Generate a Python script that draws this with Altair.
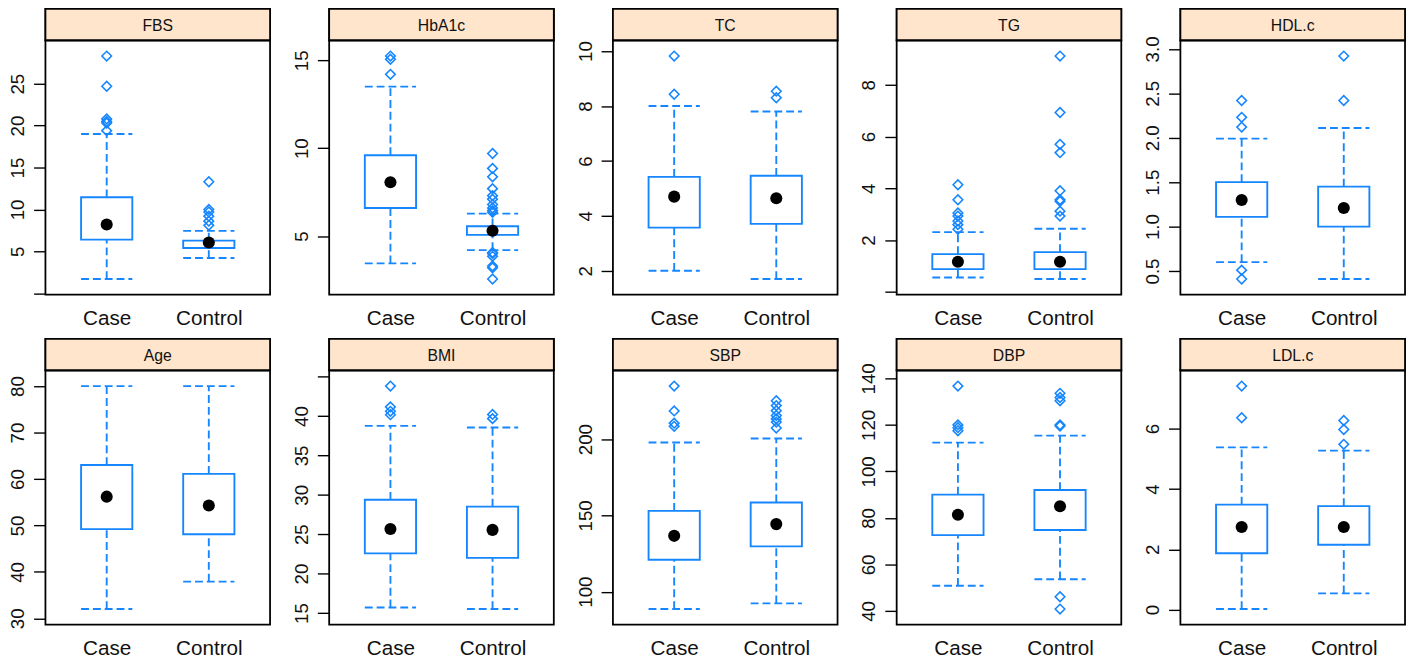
import altair as alt
import pandas as pd

variables = ["FBS", "HbA1c", "TC", "TG", "HDL.c", "Age", "BMI", "SBP", "DBP", "LDL.c"]
groups = ["Case", "Control"]

# whisker ends, quartiles and medians (order follows `variables`)
case_lower = [1.7, 3.45, 2.0, 0.56, 0.60, 32.0, 15.7, 88.6, 50.8, 0.02]
case_q1 = [6.4, 6.6, 3.57, 0.88, 1.11, 49.2, 22.56, 120.9, 72.6, 1.87]
case_median = [8.2, 8.06, 4.70, 1.17, 1.30, 56.2, 25.67, 136.6, 81.4, 2.74]
case_q3 = [11.45, 9.6, 5.42, 1.46, 1.50, 63.0, 29.37, 153.0, 90.0, 3.48]
case_upper = [19.0, 13.5, 8.0, 2.31, 1.99, 80.0, 38.75, 197.8, 112.4, 5.38]

control_lower = [4.2, 4.2, 1.7, 0.50, 0.41, 37.9, 15.5, 92.3, 53.6, 0.54]
control_q1 = [5.4, 5.07, 3.71, 0.88, 1.00, 48.1, 22.0, 129.7, 74.8, 2.15]
control_median = [6.05, 5.3, 4.64, 1.17, 1.21, 54.3, 25.55, 144.3, 85.0, 2.74]
control_q3 = [6.28, 5.56, 5.46, 1.54, 1.45, 61.1, 28.5, 158.5, 92.0, 3.43]
control_upper = [7.45, 6.28, 7.8, 2.44, 2.11, 80.0, 38.55, 200.4, 115.4, 5.27]

# outliers
case_out_FBS = [28.3, 24.7, 20.8, 20.5, 20.3, 19.4]
control_out_FBS = [13.3, 10.0, 9.7, 9.2, 8.6, 8.1]
case_out_HbA1c = [15.24, 15.06, 14.2]
control_out_HbA1c = [9.7, 8.85, 8.37, 7.7, 7.3, 7.1, 6.8, 6.6, 6.45, 6.35,
                     4.07, 4.0, 3.85, 3.3, 3.2, 2.56]
case_out_TC = [9.82, 8.43]
control_out_TC = [8.54, 8.3]
case_out_TG = [4.14, 3.56, 3.05, 2.93, 2.74, 2.6, 2.42]
control_out_TG = [9.11, 6.93, 5.7, 5.38, 3.91, 3.56, 3.5, 3.12, 2.93]
case_out_HDL = [2.42, 2.23, 2.12, 0.51, 0.41]
control_out_HDL = [2.92, 2.42]
case_out_Age = []
control_out_Age = []
case_out_BMI = [43.8, 41.16, 40.6, 40.17]
control_out_BMI = [40.2, 39.67]
case_out_SBP = [234.8, 218.5, 210.5, 208.4]
control_out_SBP = [225.2, 222.0, 218.7, 215.5, 213.3, 211.2, 207.3]
case_out_DBP = [136.7, 120.0, 118.8, 117.5]
control_out_DBP = [133.6, 131.8, 130.4, 120.0, 119.5, 46.1, 40.8]
case_out_LDL = [7.41, 6.36]
control_out_LDL = [6.27, 5.97, 5.48]

# y-axis tick values per panel, and ticks drawn without a label
ticks_FBS = [0, 5, 10, 15, 20, 25]
ticks_HbA1c = [5, 10, 15]
ticks_TC = [2, 4, 6, 8, 10]
ticks_TG = [0, 2, 4, 6, 8]
ticks_HDL = [0.5, 1.0, 1.5, 2.0, 2.5, 3.0]
ticks_Age = [30, 40, 50, 60, 70, 80]
ticks_BMI = [15, 20, 25, 30, 35, 40, 45]
ticks_SBP = [100, 150, 200]
ticks_DBP = [40, 60, 80, 100, 120, 140]
ticks_LDL = [0, 2, 4, 6]
unlabeled_FBS = [0]
unlabeled_TG = [0]
unlabeled_BMI = [45]

case_outliers = [case_out_FBS, case_out_HbA1c, case_out_TC, case_out_TG, case_out_HDL,
                 case_out_Age, case_out_BMI, case_out_SBP, case_out_DBP, case_out_LDL]
control_outliers = [control_out_FBS, control_out_HbA1c, control_out_TC, control_out_TG,
                    control_out_HDL, control_out_Age, control_out_BMI, control_out_SBP,
                    control_out_DBP, control_out_LDL]
tick_lists = [ticks_FBS, ticks_HbA1c, ticks_TC, ticks_TG, ticks_HDL,
              ticks_Age, ticks_BMI, ticks_SBP, ticks_DBP, ticks_LDL]
unlabeled_lists = [unlabeled_FBS, [], [], unlabeled_TG, [], [], unlabeled_BMI, [], [], []]
formats = ["d", "d", "d", "d", ".1f", "d", "d", "d", "d", "d"]

BLUE = "#1586ff"
STRIP = "#ffe5cc"
FONT = "Liberation Sans"
W, H, SH = 228, 258, 32
BW = 52
LW = 1.9


def panel(i):
    name = variables[i]
    box = pd.DataFrame({
        "group": groups,
        "lower": [case_lower[i], control_lower[i]],
        "q1": [case_q1[i], control_q1[i]],
        "median": [case_median[i], control_median[i]],
        "q3": [case_q3[i], control_q3[i]],
        "upper": [case_upper[i], control_upper[i]],
    })
    co, ko = case_outliers[i], control_outliers[i]
    outl = pd.DataFrame({"group": ["Case"] * len(co) + ["Control"] * len(ko),
                         "value": co + ko})
    allv = list(box["lower"]) + list(box["upper"]) + co + ko
    lo, hi = min(allv), max(allv)
    pad = 0.07 * (hi - lo)
    yscale = alt.Scale(domain=[lo - pad, hi + pad], nice=False, zero=False)
    blank = unlabeled_lists[i]
    if blank:
        expr = "indexof(" + str(blank) + ", datum.value) >= 0 ? '' : datum.label"
    else:
        expr = "datum.label"
    yaxis = alt.Axis(values=tick_lists[i], title=None, format=formats[i], labelExpr=expr,
                     domain=False, grid=False, ticks=True, tickSize=12, tickWidth=1.4,
                     tickColor="black", labelAngle=270, labelAlign="center",
                     labelBaseline="alphabetic", labelPadding=10, labelFontSize=19,
                     labelFont=FONT, labelColor="#111111")
    xaxis = alt.Axis(title=None, domain=False, ticks=False, grid=False, labelAngle=0,
                     labelFontSize=21, labelFont=FONT, labelColor="#111111", labelPadding=13)
    xenc = alt.X("group:N", scale=alt.Scale(type="point", domain=groups, padding=0.6),
                 axis=xaxis)

    def Y(f):
        return alt.Y(f + ":Q", scale=yscale, axis=yaxis)

    base = alt.Chart(box)
    dash = dict(color=BLUE, strokeWidth=LW, strokeDash=[8, 4])
    wh_hi = base.mark_rule(**dash).encode(x=xenc, y=Y("q3"), y2="upper:Q")
    wh_lo = base.mark_rule(**dash).encode(x=xenc, y=Y("lower"), y2="q1:Q")
    cap_hi = base.mark_rule(xOffset=-BW / 2, x2Offset=BW / 2, **dash).encode(
        x=xenc, x2=alt.X2("group"), y=Y("upper"))
    cap_lo = base.mark_rule(xOffset=-BW / 2, x2Offset=BW / 2, **dash).encode(
        x=xenc, x2=alt.X2("group"), y=Y("lower"))
    rect = base.mark_rect(fill="white", stroke=BLUE, strokeWidth=LW,
                          xOffset=-BW / 2, x2Offset=BW / 2).encode(
        x=xenc, x2=alt.X2("group"), y=Y("q1"), y2="q3:Q")
    layers = [wh_hi, wh_lo, cap_hi, cap_lo, rect]
    if len(outl):
        pts = alt.Chart(outl).mark_point(shape="diamond", filled=False, color=BLUE,
                                         size=95, strokeWidth=1.6, opacity=1).encode(
            x=xenc, y=Y("value"))
        layers.append(pts)
    med = base.mark_point(shape="circle", filled=True, color="black", size=150,
                          opacity=1).encode(x=xenc, y=Y("median"))
    layers.append(med)
    plot = alt.layer(*layers).properties(width=W, height=H)

    sdf = pd.DataFrame({"label": [name]})
    sbg = alt.Chart(sdf).mark_rect(fill=STRIP, stroke="black", strokeWidth=1.8).encode(
        x=alt.value(0), x2=alt.value(W), y=alt.value(0), y2=alt.value(SH))
    stx = alt.Chart(sdf).mark_text(fontSize=16, font=FONT, color="#111111",
                                   baseline="middle", align="center").encode(
        text="label:N", x=alt.value(W / 2), y=alt.value(SH / 2 + 1))
    strip = alt.layer(sbg, stx).properties(width=W, height=SH)
    return alt.vconcat(strip, plot, spacing=0, bounds="flush")


row1 = alt.hconcat(*[panel(i) for i in range(5)], spacing=20)
row2 = alt.hconcat(*[panel(i) for i in range(5, 10)], spacing=20)
chart = alt.vconcat(row1, row2, spacing=8).properties(
    padding={"left": 0, "top": -6, "right": 0, "bottom": 0}, background="white"
).configure_view(stroke="black", strokeWidth=1.8)

chart.save("out.html", embed_options={"renderer": "svg", "actions": False})
